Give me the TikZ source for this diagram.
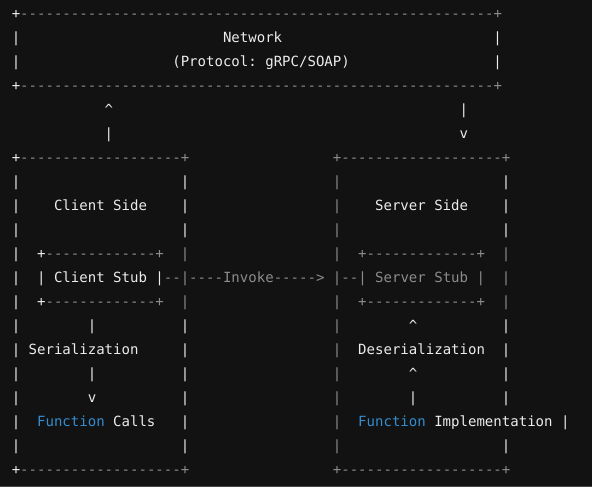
\documentclass[tikz,border=0pt]{standalone}
\usepackage{fontspec}
\setmonofont{DejaVu Sans Mono}
\usepackage{tikz}
\definecolor{TermBg}{RGB}{18,18,18}
\definecolor{TermEdge}{RGB}{70,70,70}
\definecolor{LineWhite}{RGB}{236,236,236}
\definecolor{LineGray}{RGB}{140,140,140}
\definecolor{FnBlue}{RGB}{52,140,206}
\ExplSyntaxOn
\cs_new:Npn \dashrun #1 { \prg_replicate:nn {#1} {-} }
\ExplSyntaxOff
\tikzset{
  txt/.style={anchor=base west,inner sep=0pt,outer sep=0pt,
    font=\ttfamily\fontsize{14.04pt}{24pt}\selectfont,text=LineWhite},
  dim/.style={txt,text=LineGray},
  fn/.style={txt,text=FnBlue},
}

\begin{document}
\begin{tikzpicture}[x=8.45pt,y=-24pt]
        \fill[TermBg] (-1.394,-0.75) rectangle (68.665,19.542);
        \fill[TermEdge] (-1.394,19.48) rectangle (68.665,19.542);
        \useasboundingbox (-1.394,-0.75) rectangle (68.665,19.542);
        % network box
        \foreach \r in {0,3} {
          \node[txt] (netL\r) at (0,\r) {+};
          \node[dim] (netR\r) at (1,\r) {\dashrun{56}+};
        }
        \foreach \r in {1,2} {
          \node[txt] (netbarL\r) at (0,\r) {|};
          \node[txt] (netbarR\r) at (57,\r) {|};
        }
        \node[txt] (network) at (25,1) {Network};
        \node[txt] (protocol) at (19,2) {(Protocol: gRPC/SOAP)};
        % links to the network
        \node[txt] (upTip) at (11,4) {\textasciicircum};
        \node[txt] (upBar) at (11,5) {|};
        \node[txt] (downBar) at (53,4) {|};
        \node[txt] (downTip) at (53,5) {v};
        % side boxes
        \foreach \r in {6,19} {
          \node[txt] (cliTL\r) at (0,\r) {+};
          \node[dim] (cliTR\r) at (1,\r) {\dashrun{19}+};
          \node[dim] (srvT\r) at (38,\r) {+\dashrun{19}+};
        }
        \foreach \r in {7,8,9,13,14,15,16,18} {
          \node[txt] (cliL\r) at (0,\r) {|};
          \node[txt] (cliR\r) at (20,\r) {|};
          \node[dim] (srvL\r) at (38,\r) {|};
          \node[txt] (srvR\r) at (58,\r) {|};
        }
        \foreach \r in {10,11,12} {
          \node[txt] (cliL\r) at (0,\r) {|};
          \node[dim] (srvR\r) at (58,\r) {|};
        }
        \node[txt] (clientSide) at (5,8) {Client Side};
        \node[txt] (serverSide) at (43,8) {Server Side};
        % stubs
        \foreach \r in {10,12} {
          \node[txt] (cstubL\r) at (3,\r) {+};
          \node[dim] (cstubR\r) at (4,\r) {\dashrun{13}+};
          \node[dim] (cliR\r) at (20,\r) {|};
          \node[dim] (srvL\r) at (38,\r) {|};
          \node[dim] (sstub\r) at (41,\r) {+\dashrun{13}+};
        }
        \node[txt] (clientStub) at (3,11) {| Client Stub |};
        \node[dim] (invoke) at (18,11) {--|----Invoke-----> |--| Server Stub |};
        % client flow
        \node[txt] (serBar) at (9,13) {|};
        \node[txt] (serialization) at (2,14) {Serialization};
        \node[txt] (serBar2) at (9,15) {|};
        \node[txt] (serTip) at (9,16) {v};
        \node[fn] (fnCall) at (3,17) {Function};
        \node[txt] (calls) at (12,17) {Calls};
        % server flow
        \node[txt] (desTip) at (47,13) {\textasciicircum};
        \node[txt] (deserialization) at (41,14) {Deserialization};
        \node[txt] (desTip2) at (47,15) {\textasciicircum};
        \node[txt] (desBar) at (47,16) {|};
        \node[fn] (fnImpl) at (41,17) {Function};
        \node[txt] (impl) at (50,17) {Implementation |};
        \node[txt] (cliL17) at (0,17) {|};
        \node[txt] (cliR17) at (20,17) {|};
        \node[dim] (srvL17) at (38,17) {|};
\end{tikzpicture}
\end{document}
